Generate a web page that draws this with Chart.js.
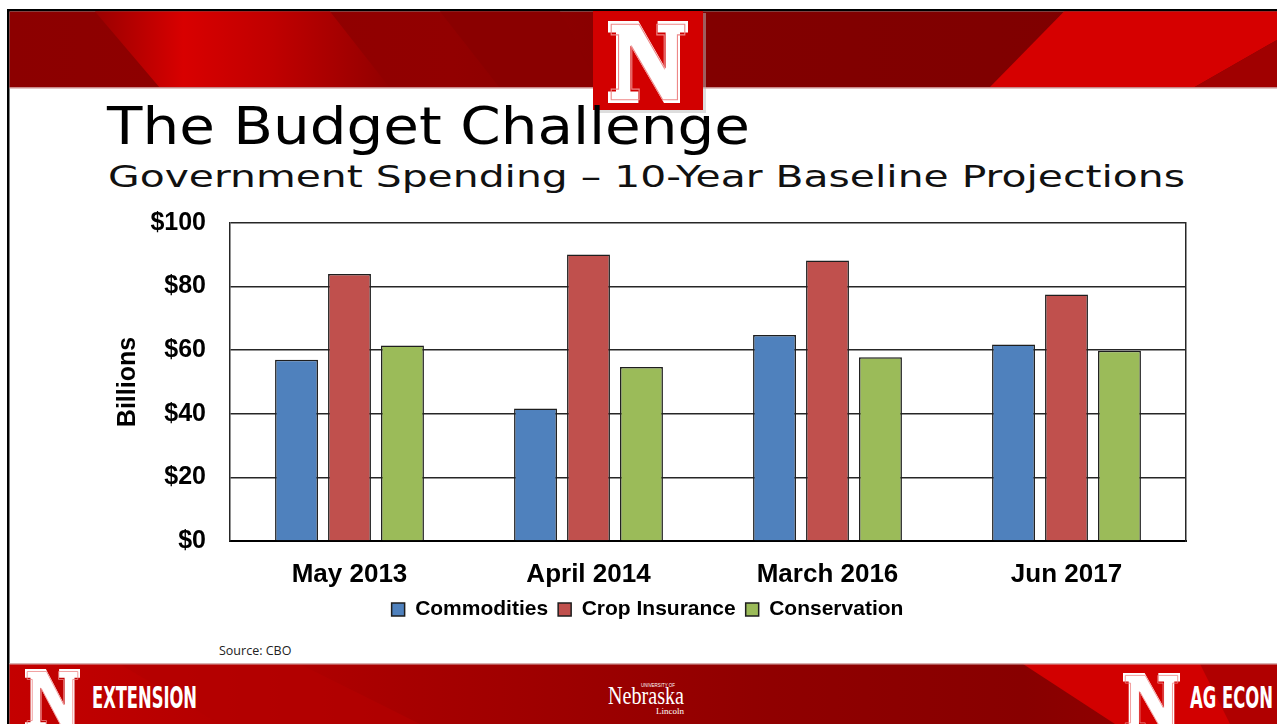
<!doctype html>
<html lang="en">
<head>
  <meta charset="UTF-8" />
  <title>The Budget Challenge</title>
  <script src="https://cdn.jsdelivr.net/npm/chart.js@4.4.4/dist/chart.umd.min.js"></script>
  <style>
    html, body {
      margin: 0;
      padding: 0;
      background: #fff;
    }
    .slide {
      position: relative;
      width: 1277px;
      height: 724px;
      overflow: hidden;
    }
    .slide svg {
      position: absolute;
      left: 0;
      top: 0;
    }
    #budgetChart {
      position: absolute;
      left: 100px;
      top: 184px;
    }
  </style>
</head>
<body>
  <div class="slide">
    <svg width="1277" height="724" viewBox="0 0 1277 724">
      <defs>
        <linearGradient id="topBase" x1="0" y1="0" x2="1" y2="0">
          <stop offset="0" stop-color="#8c0000" />
          <stop offset="0.35" stop-color="#920000" />
          <stop offset="0.55" stop-color="#820000" />
          <stop offset="1" stop-color="#7e0000" />
        </linearGradient>
        <linearGradient id="footBase" x1="0" y1="0" x2="1" y2="0">
          <stop offset="0" stop-color="#c40000" />
          <stop offset="0.3" stop-color="#a80000" />
          <stop offset="0.6" stop-color="#900000" />
          <stop offset="0.8" stop-color="#880000" />
          <stop offset="1" stop-color="#9a0000" />
        </linearGradient>
        <linearGradient id="leftStripe" x1="0" y1="0" x2="1" y2="0">
          <stop offset="0" stop-color="#9a0000" />
          <stop offset="0.3" stop-color="#d80000" />
          <stop offset="0.6" stop-color="#c00000" />
          <stop offset="1" stop-color="#920000" />
        </linearGradient>
        <path id="blockN" d="M0,0 L38,0 L72,58 L72,14 L62,14 L62,0 L100,0 L100,14 L90,14 L90,100 L70,100 L28,30 L28,86 L38,86 L38,100 L0,100 L0,86 L10,86 L10,14 L0,14 Z" />
      </defs>

      <!-- top banner -->
      <rect x="7" y="9" width="1270" height="2.5" fill="#000" />
      <rect x="7" y="9" width="2.5" height="715" fill="#000" />
      <rect x="9.5" y="11.5" width="1268" height="76.5" fill="url(#topBase)" />
      <polygon points="95,11.5 330,11.5 390,88 160,88" fill="url(#leftStripe)" />
      <polygon points="440,11.5 560,11.5 600,88 500,88" fill="#8a0000" />
      <polygon points="1064,11.5 1277,11.5 1277,40 1193,88 989,88" fill="#d60000" />
      <polygon points="1277,40 1277,88 1193,88" fill="#a00000" />
      <rect x="9.5" y="87" width="1268" height="1.5" fill="#c98a8a" />

      <!-- top N logo -->
      <rect x="596" y="13" width="110" height="100" fill="#bbb" opacity="0.5" />
      <rect x="593" y="11" width="110" height="99" fill="#d20000" />
      <g transform="translate(608,21) scale(0.8,0.82)">
        <use href="#blockN" fill="#fff" />
        <use href="#blockN" fill="none" stroke="#e88" stroke-width="1.5" transform="translate(4,4) scale(0.92)" />
      </g>

      <!-- title -->
      <text x="107" y="144" font-family="DejaVu Sans, Verdana, sans-serif" font-size="51" fill="#000" textLength="643" lengthAdjust="spacingAndGlyphs">The Budget Challenge</text>
      <text x="108" y="187" font-family="DejaVu Sans, Verdana, sans-serif" font-size="30" fill="#111" textLength="1077" lengthAdjust="spacingAndGlyphs">Government Spending – 10-Year Baseline Projections</text>

      <!-- source -->
      <text x="219" y="655" font-family="Open Sans, Liberation Sans, sans-serif" font-size="12.5" fill="#222">Source: CBO</text>

      <!-- footer -->
      <rect x="9.5" y="664" width="1268" height="60" fill="url(#footBase)" />
      <polygon points="120,664 300,664 420,724 220,724" fill="#b40000" opacity="0.7" />
      <polygon points="1023,664 1277,664 1277,724 1115,724" fill="#d20000" />
      <polygon points="1200,664 1277,664 1277,724 1230,724" fill="#a80000" opacity="0.8" />
      <rect x="9.5" y="663" width="1268" height="1.5" fill="#d8b0b0" />

      <g transform="translate(25,669) scale(0.55,0.62)">
        <use href="#blockN" fill="#fff" />
        <use href="#blockN" fill="none" stroke="#e88" stroke-width="1.5" transform="translate(4,4) scale(0.92)" />
      </g>
      <text x="92" y="708" font-family="Liberation Sans Narrow, DejaVu Sans Condensed, sans-serif" font-weight="bold" font-size="31" fill="#fff" textLength="105" lengthAdjust="spacingAndGlyphs">EXTENSION</text>

      <text x="608" y="704" font-family="Liberation Serif, DejaVu Serif, serif" font-size="25" fill="#fff" textLength="76" lengthAdjust="spacingAndGlyphs">Nebraska</text>
      <text x="641" y="687" font-family="Liberation Sans, sans-serif" font-size="5" fill="#fff" textLength="34" lengthAdjust="spacingAndGlyphs">UNIVERSITY OF</text>
      <text x="656" y="714" font-family="Liberation Serif, serif" font-size="9" fill="#fff">Lincoln</text>

      <g transform="translate(1123,673) scale(0.57,0.6)">
        <use href="#blockN" fill="#fff" />
        <use href="#blockN" fill="none" stroke="#e88" stroke-width="1.5" transform="translate(4,4) scale(0.92)" />
      </g>
      <text x="1190" y="708" font-family="Liberation Sans Narrow, DejaVu Sans Condensed, sans-serif" font-weight="bold" font-size="31" fill="#fff" textLength="83" lengthAdjust="spacingAndGlyphs">AG ECON</text>
    </svg>

    <canvas id="budgetChart" width="1100" height="446"></canvas>
  </div>

  <script>
    const categories = ['May 2013', 'April 2014', 'March 2016', 'Jun 2017'];
    const commodities = [57, 41.7, 64.8, 61.8];
    const cropInsurance = [84, 90.1, 88.2, 77.5];
    const conservation = [61.5, 54.7, 57.8, 59.8];
    const yTicks = [0, 20, 40, 60, 80, 100];

    const fontFamily = '"Liberation Sans", Arial, sans-serif';
    const barBorder = '#1e1e1e';
    const gridColor = '#262626';

    const ctx = document.getElementById('budgetChart');
    new Chart(ctx, {
      type: 'bar',
      data: {
        labels: categories,
        datasets: [
          {
            label: 'Commodities',
            data: commodities,
            backgroundColor: '#4f81bd',
            borderColor: barBorder,
            borderWidth: 1.5
          },
          {
            label: 'Crop Insurance',
            data: cropInsurance,
            backgroundColor: '#c0504d',
            borderColor: barBorder,
            borderWidth: 1.5
          },
          {
            label: 'Conservation',
            data: conservation,
            backgroundColor: '#9bbb59',
            borderColor: barBorder,
            borderWidth: 1.5
          }
        ]
      },
      options: {
        responsive: false,
        animation: false,
        devicePixelRatio: 1,
        categoryPercentage: 0.665,
        barPercentage: 0.81,
        layout: { padding: { left: 9, right: 14, top: 6, bottom: 0 } },
        plugins: {
          tooltip: { enabled: false },
          legend: {
            position: 'bottom',
            labels: {
              color: '#000',
              font: { family: fontFamily, size: 21, weight: 'bold' },
              boxWidth: 13,
              boxHeight: 13,
              padding: 10
            }
          }
        },
        scales: {
          x: {
            grid: { display: false, drawTicks: false },
            border: { color: '#000', width: 2 },
            ticks: {
              color: '#000',
              font: { family: fontFamily, size: 26, weight: 'bold' },
              padding: 18
            },
            afterFit: (s) => { s.height = 48; }
          },
          y: {
            min: 0,
            max: 100,
            afterBuildTicks: (s) => { s.ticks = yTicks.map((v) => ({ value: v })); },
            grid: { color: gridColor, lineWidth: 1.5, drawTicks: false },
            border: { color: gridColor, width: 1.5 },
            ticks: {
              color: '#000',
              font: { family: fontFamily, size: 25, weight: 'bold' },
              padding: 24,
              callback: (v) => '$' + v
            },
            title: {
              display: true,
              text: 'Billions',
              color: '#000',
              font: { family: fontFamily, size: 25, weight: 'bold' }
            },
            afterFit: (s) => { s.width = 121; }
          },
          y2: {
            position: 'right',
            min: 0,
            max: 100,
            grid: { display: false, drawTicks: false },
            ticks: { display: false },
            border: { color: gridColor, width: 1.5 },
            afterFit: (s) => { s.width = 0; }
          }
        }
      }
    });
  </script>
</body>
</html>
